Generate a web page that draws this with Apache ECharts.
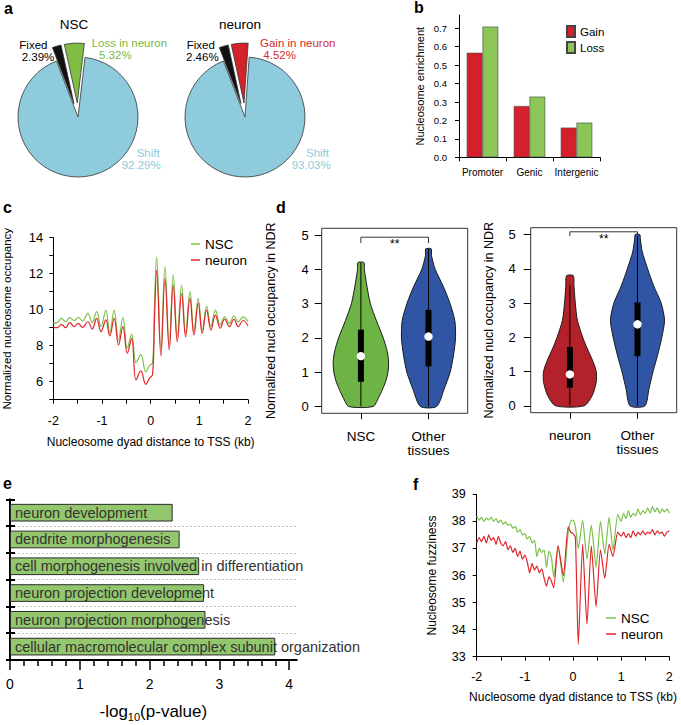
<!DOCTYPE html>
<html><head><meta charset="utf-8">
<script src="https://cdn.jsdelivr.net/npm/echarts@6/dist/echarts.min.js"></script>
<style>html,body{margin:0;padding:0;background:#fff}#c{width:681px;height:725px}</style>
</head><body><div id="c"></div>
<script>
// ---------- DATA ----------
// a: pies
const pieNSCNames = ['Shift', 'Fixed', 'Loss in neuron'];
const pieNSCValues = [92.29, 2.39, 5.32];
const pieNeuronNames = ['Shift', 'Fixed', 'Gain in neuron'];
const pieNeuronValues = [93.03, 2.46, 4.52];
// b: enrichment
const enrichCats = ['Promoter', 'Genic', 'Intergenic'];
const enrichGain = [0.567, 0.278, 0.161];
const enrichLoss = [0.709, 0.329, 0.188];
const enrichTicks = [0, 0.1, 0.2, 0.3, 0.4, 0.5, 0.6, 0.7];
// c: occupancy around TSS
const occX = [-2.00,-1.92,-1.83,-1.75,-1.66,-1.57,-1.49,-1.40,-1.29,-1.20,-1.11,-1.02,-0.92,-0.84,-0.75,-0.66,-0.57,-0.48,-0.39,-0.30,-0.20,-0.10,-0.02,0.04,0.08,0.123,0.211,0.294,0.382,0.464,0.547,0.636,0.718,0.807,0.889,0.978,1.06,1.15,1.238,1.33,1.43,1.52,1.62,1.71,1.80,1.90,2.00];
const occNSC = [9.25,9.28,9.52,9.33,9.56,9.39,9.58,9.37,9.80,9.28,9.89,9.06,9.98,8.69,9.98,8.32,9.58,7.86,8.65,7.05,7.5,6.55,6.9,7.05,10.3,12.94,7.76,12.39,8.04,11.93,8.5,11.37,8.69,11.0,8.78,10.63,8.87,10.2,9.06,9.98,9.15,9.6,9.24,9.65,9.33,9.6,9.35];
const occNeuron = [9.0,9.0,9.19,9.0,9.28,9.06,9.24,9.02,9.33,8.92,9.52,8.78,9.43,8.54,9.52,8.04,9.06,7.58,8.41,6.1,6.6,5.85,6.2,6.4,9.6,12.2,7.43,11.74,7.76,11.37,8.22,10.9,8.5,10.63,8.6,10.36,8.69,9.98,8.87,9.7,8.97,9.47,9.06,9.47,9.06,9.4,9.1];
// d: violins  [value, half width]
const dLeftLabels = ['NSC', 'Other\ntissues'];
const dRightLabels = ['neuron', 'Other\ntissues'];
const violinNSC = [[0,0.18],[0.25,0.26],[0.5,0.32],[0.75,0.37],[1.0,0.40],[1.3,0.41],[1.6,0.39],[2.0,0.33],[2.5,0.23],[3.0,0.14],[3.5,0.09],[4.0,0.05],[4.2,0.045]];
const violinOtherL = [[0,0.12],[0.5,0.23],[1.0,0.32],[1.5,0.37],[2.0,0.40],[2.5,0.39],[3.0,0.32],[3.5,0.22],[4.0,0.10],[4.4,0.045],[4.6,0.04]];
const violinNeuron = [[0,0.21],[0.3,0.33],[0.7,0.39],[1.0,0.39],[1.3,0.34],[1.7,0.25],[2.0,0.19],[2.5,0.11],[3.0,0.08],[3.5,0.06],[3.8,0.05]];
const violinOtherR = [[0,0.11],[0.5,0.17],[1.0,0.23],[1.5,0.30],[2.0,0.36],[2.5,0.40],[3.0,0.35],[3.5,0.24],[4.0,0.15],[4.5,0.07],[4.9,0.04],[5.0,0.035]];
// box stats: [whisker low, q1, median, q3, whisker high]
const boxNSC = [0, 0.72, 1.47, 2.24, 4.2];
const boxOtherL = [0, 1.17, 2.04, 2.82, 4.6];
const boxNeuron = [0, 0.53, 0.92, 1.72, 3.52];
const boxOtherR = [0, 1.45, 2.38, 3.02, 5.0];
const dTicks = [0, 1, 2, 3, 4, 5];
// bracket: [x1, x2, top, tick end]
const bracketL = [1, 2, 4.94, 4.77];
const bracketR = [1, 2, 5.08, 4.95];
// e: GO terms
const goTerms = ['neuron development', 'dendrite morphogenesis', 'cell morphogenesis involved in differentiation', 'neuron projection development', 'neuron projection morphogenesis', 'cellular macromolecular complex subunit organization'];
const goValues = [2.33, 2.43, 2.71, 2.78, 2.80, 3.80];
const eMajor = [0, 1, 2, 3, 4];
const eMinor = [0.2,0.4,0.6,0.8,1.2,1.4,1.6,1.8,2.2,2.4,2.6,2.8,3.2,3.4,3.6,3.8];
// f: fuzziness
const fuzzX = [-2.00,-1.95,-1.90,-1.85,-1.80,-1.75,-1.70,-1.65,-1.60,-1.55,-1.50,-1.45,-1.40,-1.35,-1.30,-1.25,-1.20,-1.15,-1.10,-1.05,-1.00,-0.95,-0.90,-0.85,-0.80,-0.75,-0.70,-0.65,-0.60,-0.55,-0.50,-0.45,-0.40,-0.31,-0.20,-0.10,-0.05,0.00,0.05,0.11,0.20,0.29,0.38,0.48,0.57,0.66,0.75,0.83,0.93,1.00,1.05,1.10,1.15,1.20,1.25,1.30,1.35,1.40,1.45,1.50,1.55,1.60,1.65,1.70,1.75,1.80,1.85,1.90,1.95,2.00];
const fuzzNSC = [38.20,38.05,38.15,38.00,38.12,38.05,38.15,38.00,38.10,37.95,38.05,37.90,37.98,37.85,37.90,37.75,37.82,37.60,37.70,37.50,37.55,37.35,37.45,37.20,37.30,36.70,37.00,36.85,36.95,36.30,36.90,36.70,35.95,37.10,35.75,37.60,38.00,38.05,37.80,37.00,38.05,36.60,37.85,36.30,38.00,36.80,38.15,36.95,38.25,38.00,38.30,38.10,38.40,38.15,38.30,38.20,38.45,38.25,38.40,38.30,38.50,38.30,38.55,38.35,38.50,38.30,38.45,38.35,38.45,38.30];
const fuzzNeuron = [37.20,37.40,37.25,37.45,37.20,37.50,37.30,37.40,37.15,37.45,37.20,37.10,37.25,36.95,37.10,36.85,37.00,36.70,36.90,36.60,36.75,36.50,36.10,36.45,36.20,36.35,36.10,36.25,35.90,35.60,35.95,35.80,35.55,37.10,36.00,37.80,37.60,37.55,37.40,33.45,37.15,34.20,37.10,34.85,36.95,35.90,37.15,36.70,37.60,37.45,37.60,37.40,37.55,37.40,37.65,37.45,37.60,37.50,37.65,37.50,37.60,37.55,37.70,37.50,37.65,37.55,37.60,37.45,37.60,37.65];

// ---------- STYLE ----------
const FONT = 'Liberation Sans, Arial, Helvetica, sans-serif';
const C = {
  pieBlue:'#8ecbdc', pieGreen:'#80bd45', pieRed:'#d3222a', black:'#111',
  txtGreen:'#78b944', txtRed:'#d42a2f', txtBlue:'#8ccbdd',
  barRed:'#d51f2d', barGreen:'#8cc659',
  lineGreen:'#7cc04a', lineRed:'#e0262b',
  vGreen:'#6db345', vBlue:'#2f55a4', vRed:'#b3222b',
  eBar:'#93c76d'
};
function merge(a, b) {
  const r = Object.assign({}, a);
  for (const k in b) {
    if (b[k] && typeof b[k] === 'object' && !Array.isArray(b[k]) && a[k] && typeof a[k] === 'object' && !Array.isArray(a[k])) r[k] = merge(a[k], b[k]);
    else r[k] = b[k];
  }
  return r;
}
const baseAxis = {
  axisLine:{show:true, onZero:false, lineStyle:{color:'#000', width:1}},
  axisTick:{show:true, inside:false, length:4, lineStyle:{color:'#000', width:1}},
  axisLabel:{color:'#000', fontFamily:FONT, fontSize:12},
  splitLine:{show:false},
  nameLocation:'middle', nameMoveOverlap:false,
  nameTextStyle:{color:'#000', fontFamily:FONT, fontSize:12}
};
const ax = o => merge(baseAxis, o);
const grid = (l, t, w, h, extra) => Object.assign({left:l, top:t, width:w, height:h, containLabel:false, outerBoundsMode:'none'}, extra || {});

function pieData(names, values, colors) {
  return names.map((n, i) => ({name:n, value:values[i], selected:i > 0, itemStyle:{color:colors[i]}}));
}
function pieSeries(center, startAngle, names, values, colors) {
  return {type:'pie', center:center, radius:60, startAngle:startAngle, clockwise:true,
    selectedMode:'multiple', selectedOffset:14, silent:true,
    label:{show:false}, labelLine:{show:false}, emphasis:{disabled:true},
    itemStyle:{borderColor:'#333', borderWidth:0.8},
    select:{itemStyle:{borderColor:'#333', borderWidth:0.8}},
    data:pieData(names, values, colors)};
}

function violinSeries(xi, yi, list) {
  return {type:'custom', xAxisIndex:xi, yAxisIndex:yi, clip:false, silent:true,
    data:list.map((d, i) => [i + 1, d.box[2]]),
    renderItem:function(params, api) {
      const d = list[params.dataIndex];
      const x = api.value(0);
      const pts = [];
      d.shape.forEach(p => pts.push(api.coord([x + p[1], p[0]])));
      for (let k = d.shape.length - 1; k >= 0; k--) pts.push(api.coord([x - d.shape[k][1], d.shape[k][0]]));
      const lo = api.coord([x, d.box[0]]), q1 = api.coord([x, d.box[1]]), md = api.coord([x, d.box[2]]), q3 = api.coord([x, d.box[3]]), hi = api.coord([x, d.box[4]]);
      return {type:'group', children:[
        {type:'polygon', shape:{points:pts, smooth:0.25}, style:{fill:d.color, stroke:'#1a1a1a', lineWidth:1}},
        {type:'line', shape:{x1:lo[0], y1:lo[1], x2:hi[0], y2:hi[1]}, style:{stroke:'#000', lineWidth:1}},
        {type:'rect', shape:{x:q3[0] - 3, y:q3[1], width:6, height:q1[1] - q3[1]}, style:{fill:'#000'}},
        {type:'circle', shape:{cx:md[0], cy:md[1], r:4.2}, style:{fill:'#fff'}}
      ]};
    }};
}
function bracketSeries(xi, yi, b) {
  return {type:'custom', xAxisIndex:xi, yAxisIndex:yi, clip:false, silent:true,
    data:[[(b[0] + b[1]) / 2, b[2]]],
    renderItem:function(params, api) {
      const p1 = api.coord([b[0], b[3]]), p2 = api.coord([b[0], b[2]]), p3 = api.coord([b[1], b[2]]), p4 = api.coord([b[1], b[3]]);
      const m = api.coord([(b[0] + b[1]) / 2, b[2]]);
      return {type:'group', children:[
        {type:'polyline', shape:{points:[p1, p2, p3, p4]}, style:{stroke:'#333', lineWidth:1, fill:null}},
        {type:'text', x:m[0], y:m[1] + 7, style:{text:'**', fill:'#000', fontSize:12, fontFamily:FONT, align:'center', verticalAlign:'middle'}}
      ]};
    }};
}
const zip = (xs, ys) => xs.map((x, i) => [x, ys[i]]);

function txt(t, x, y, color, size, extra) {
  return {type:'text', x:x, y:y, silent:true, style:Object.assign({text:t, fill:color, fontSize:size, fontFamily:FONT, verticalAlign:'middle'}, extra || {})};
}
const pct = v => v.toFixed(2) + '%';

// ---------- CHART ----------
const chart = echarts.init(document.getElementById('c'), null, {renderer:'svg', width:681, height:725});
const option = {
  animation:false,
  backgroundColor:'#fff',
  textStyle:{fontFamily:FONT},
  grid:[
    grid(459, 15, 141, 142.3),                 // b
    grid(53.3, 237.7, 194.7, 162),             // c
    grid(321.7, 228.3, 146, 185, {show:true, borderColor:'#333', borderWidth:1, backgroundColor:'transparent'}), // d left
    grid(530.7, 227.7, 146, 185, {show:true, borderColor:'#333', borderWidth:1, backgroundColor:'transparent'}), // d right
    grid(10, 499.3, 286.7, 160.7),             // e
    grid(476.7, 494.3, 192.6, 162.4)           // f
  ],
  xAxis:[
    ax({gridIndex:0, type:'category', data:enrichCats, axisTick:{alignWithLabel:false, length:4}, axisLabel:{interval:0, fontSize:10, margin:10}}),
    ax({gridIndex:1, type:'value', min:-2, max:2, interval:0.5, axisLabel:{fontSize:12.5, margin:15, formatter:v => Number.isInteger(v) ? String(v) : ''},
        name:'Nucleosome dyad distance to TSS (kb)', nameGap:36}),
    ax({gridIndex:2, type:'value', min:0.42, max:2.58, axisLine:{show:false}, axisTick:{customValues:[1, 2], length:6},
        axisLabel:{customValues:[1, 2], fontSize:13.5, lineHeight:14, margin:16, formatter:v => dLeftLabels[Math.round(v) - 1]}}),
    ax({gridIndex:3, type:'value', min:0.42, max:2.58, axisLine:{show:false}, axisTick:{customValues:[1, 2], length:6},
        axisLabel:{customValues:[1, 2], fontSize:13.5, lineHeight:14, margin:16, formatter:v => dRightLabels[Math.round(v) - 1]}}),
    ax({gridIndex:4, type:'value', min:0, max:4.107, position:'bottom', axisLine:{lineStyle:{width:2}},
        axisTick:{customValues:eMajor, length:10, lineStyle:{width:1.5}}, axisLabel:{customValues:eMajor, fontSize:14, margin:17},
        name:'-log{sub|10}(p-value)', nameGap:40, nameTextStyle:{fontSize:17, rich:{sub:{fontSize:11, fontFamily:FONT, padding:[11, 0, 0, 0]}}}}),
    ax({gridIndex:4, type:'value', min:0, max:4.107, position:'bottom', axisLine:{show:false},
        axisTick:{customValues:eMinor, length:6, lineStyle:{width:1.5}}, axisLabel:{show:false}}),
    ax({gridIndex:5, type:'value', min:-2, max:2, interval:0.5, axisLabel:{fontSize:12.5, margin:14, formatter:v => Number.isInteger(v) ? String(v) : ''},
        name:'Nucleosome dyad distance to TSS (kb)', nameGap:34})
  ],
  yAxis:[
    ax({gridIndex:0, type:'value', min:0, max:0.772, axisTick:{customValues:enrichTicks, length:4},
        axisLabel:{customValues:enrichTicks, fontSize:9.5, margin:12, formatter:v => v.toFixed(1)},
        name:'Nucleosome enrichment', nameGap:34, nameTextStyle:{fontSize:11}}),
    ax({gridIndex:1, type:'value', min:5, max:14, interval:1, axisLabel:{fontSize:13, margin:10, formatter:v => v % 2 === 0 ? String(v) : ''},
        name:'Normalized nucleosome occupancy', nameGap:40, nameTextStyle:{fontSize:11.5}}),
    ax({gridIndex:2, type:'value', min:-0.2, max:5.2, axisLine:{show:false}, axisTick:{customValues:dTicks, length:7},
        axisLabel:{customValues:dTicks, fontSize:13, margin:13},
        name:'Normalized nucl occupancy in NDR', nameGap:44, nameTextStyle:{fontSize:12.5}}),
    ax({gridIndex:3, type:'value', min:-0.2, max:5.2, axisLine:{show:false}, axisTick:{customValues:dTicks, length:7},
        axisLabel:{customValues:dTicks, fontSize:13, margin:15},
        name:'Normalized nucl occupancy in NDR', nameGap:35, nameTextStyle:{fontSize:12.5}}),
    ax({gridIndex:4, type:'category', data:goTerms, inverse:true, position:'left', axisLine:{lineStyle:{width:2}},
        axisTick:{inside:true, length:5, interval:0, lineStyle:{width:2}}, axisLabel:{show:false},
        splitLine:{show:true, interval:0, showMinLine:false, showMaxLine:false, lineStyle:{color:'#bbb', type:[2, 2], width:1}}}),
    ax({gridIndex:4, type:'category', data:goTerms, inverse:true, position:'left', axisLine:{show:false},
        axisTick:{inside:false, length:4, interval:0, lineStyle:{width:2}}, axisLabel:{show:false}}),
    ax({gridIndex:5, type:'value', min:33, max:39, interval:1, axisLabel:{fontSize:12.5, margin:11},
        name:'Nucleosome fuzziness', nameGap:39, nameTextStyle:{fontSize:12}})
  ],
  legend:[
    {data:['Gain', 'Loss'], left:561, top:20, orient:'vertical', icon:'rect', itemWidth:8, itemHeight:11, itemGap:3,
     textStyle:{fontSize:11.5, color:'#000', fontFamily:FONT}, selectedMode:false},
    {data:['NSC', 'neuron'], left:186, top:232, orient:'vertical', icon:'rect', itemWidth:9, itemHeight:1.5, itemGap:2,
     textStyle:{fontSize:13.5, color:'#000', fontFamily:FONT}, selectedMode:false},
    {data:['NSC', 'neuron'], left:601, top:606, orient:'vertical', icon:'rect', itemWidth:10, itemHeight:1.5, itemGap:2,
     textStyle:{fontSize:13.5, color:'#000', fontFamily:FONT}, selectedMode:false}
  ],
  series:[
    pieSeries([78, 117], 83.3, pieNSCNames, pieNSCValues, [C.pieBlue, C.black, C.pieGreen]),
    pieSeries([245, 117], 86, pieNeuronNames, pieNeuronValues, [C.pieBlue, C.black, C.pieRed]),
    {type:'bar', name:'Gain', xAxisIndex:0, yAxisIndex:0, data:enrichGain, barGap:'0%', barCategoryGap:'33%', silent:true,
     itemStyle:{color:C.barRed, borderColor:'#444', borderWidth:0.6}},
    {type:'bar', name:'Loss', xAxisIndex:0, yAxisIndex:0, data:enrichLoss, barGap:'0%', barCategoryGap:'33%', silent:true,
     itemStyle:{color:C.barGreen, borderColor:'#444', borderWidth:0.6}},
    {type:'line', name:'NSC', xAxisIndex:1, yAxisIndex:1, data:zip(occX, occNSC), smooth:0.4, showSymbol:false, silent:true,
     lineStyle:{color:C.lineGreen, width:1.2}, itemStyle:{color:C.lineGreen}},
    {type:'line', name:'neuron', xAxisIndex:1, yAxisIndex:1, data:zip(occX, occNeuron), smooth:0.4, showSymbol:false, silent:true,
     lineStyle:{color:C.lineRed, width:1.2}, itemStyle:{color:C.lineRed}},
    violinSeries(2, 2, [{shape:violinNSC, box:boxNSC, color:C.vGreen}, {shape:violinOtherL, box:boxOtherL, color:C.vBlue}]),
    bracketSeries(2, 2, bracketL),
    violinSeries(3, 3, [{shape:violinNeuron, box:boxNeuron, color:C.vRed}, {shape:violinOtherR, box:boxOtherR, color:C.vBlue}]),
    bracketSeries(3, 3, bracketR),
    {type:'bar', name:'GO', xAxisIndex:4, yAxisIndex:4, data:goValues, barCategoryGap:'34%', silent:true,
     itemStyle:{color:C.eBar, borderColor:'#2b2b2b', borderWidth:1},
     label:{show:true, position:'insideLeft', distance:5, formatter:'{b}', color:'#333', fontSize:14.5, fontFamily:FONT}},
    {type:'line', name:'NSC', xAxisIndex:6, yAxisIndex:6, data:zip(fuzzX, fuzzNSC), smooth:0.2, showSymbol:false, silent:true,
     lineStyle:{color:C.lineGreen, width:1.2}, itemStyle:{color:C.lineGreen}},
    {type:'line', name:'neuron', xAxisIndex:6, yAxisIndex:6, data:zip(fuzzX, fuzzNeuron), smooth:0.2, showSymbol:false, silent:true,
     lineStyle:{color:C.lineRed, width:1.2}, itemStyle:{color:C.lineRed}}
  ],
  graphic:[
    txt('a', 4, 8.3, '#000', 16, {fontWeight:'bold'}),
    txt('b', 414, 7.6, '#000', 16, {fontWeight:'bold'}),
    txt('c', 3, 207, '#000', 16, {fontWeight:'bold'}),
    txt('d', 276, 207.6, '#000', 16, {fontWeight:'bold'}),
    txt('e', 3, 483.3, '#000', 16, {fontWeight:'bold'}),
    txt('f', 413, 484.3, '#000', 16, {fontWeight:'bold'}),
    txt('NSC', 74, 24, '#000', 13.5, {align:'center'}),
    txt('neuron', 240, 24, '#000', 13.5, {align:'center'}),
    txt(pieNSCNames[1], 19.3, 45, '#000', 11.5),
    txt(pct(pieNSCValues[1]), 21.7, 56.7, '#000', 11.5),
    txt(pieNSCNames[2], 91.7, 43.3, C.txtGreen, 11.5),
    txt(pct(pieNSCValues[2]), 99, 55, C.txtGreen, 11.5),
    txt(pieNSCNames[0], 136.7, 153.3, C.txtBlue, 11.5),
    txt(pct(pieNSCValues[0]), 121.7, 165, C.txtBlue, 11.5),
    txt(pieNeuronNames[1], 186.7, 45, '#000', 11.5),
    txt(pct(pieNeuronValues[1]), 186, 56.7, '#000', 11.5),
    txt(pieNeuronNames[2], 260, 43.3, C.txtRed, 11.5),
    txt(pct(pieNeuronValues[2]), 263.3, 55, C.txtRed, 11.5),
    txt(pieNeuronNames[0], 306, 153.3, C.txtBlue, 11.5),
    txt(pct(pieNeuronValues[0]), 291.7, 165, C.txtBlue, 11.5)
  ]
};
chart.setOption(option);
</script>
</body></html>
